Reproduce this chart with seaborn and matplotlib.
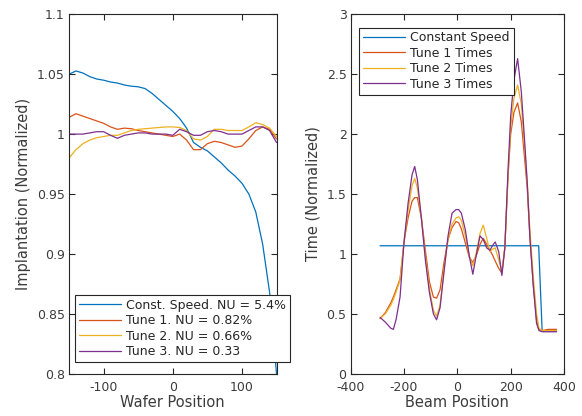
import numpy as np
import pandas as pd
import matplotlib
matplotlib.use("Agg")
import matplotlib.pyplot as plt
import seaborn as sns
from matplotlib.ticker import FormatStrFormatter

# colours (MATLAB default order)
colors = ["#0072BD", "#D95319", "#EDB120", "#7E2F8E"]

# left panel: implantation uniformity across the wafer
wafer_x = [-150, -140, -130, -120, -110, -100, -90, -80, -70, -60, -50, -40, -30, -20, -10,
           0, 10, 20, 30, 40, 50, 60, 70, 80, 90, 100, 110, 120, 130, 140, 150]
const_speed = [1.050, 1.0527, 1.051, 1.048, 1.046, 1.045, 1.0435, 1.0426, 1.041, 1.040, 1.0395,
               1.038, 1.034, 1.029, 1.024, 1.019, 1.013, 1.005, 0.993, 0.989, 0.986, 0.981,
               0.976, 0.970, 0.965, 0.959, 0.950, 0.935, 0.908, 0.868, 0.80]
tune1 = [1.014, 1.017, 1.015, 1.013, 1.011, 1.009, 1.006, 1.004, 1.005, 1.0045, 1.003, 1.002,
         1.001, 1.000, 0.999, 0.998, 1.000, 0.995, 0.987, 0.987, 0.992, 0.994, 0.993, 0.991,
         0.989, 0.990, 0.996, 1.003, 1.006, 1.004, 0.996]
tune2 = [0.980, 0.987, 0.992, 0.995, 0.997, 0.998, 0.999, 0.999, 1.001, 1.003, 1.004, 1.0045,
         1.005, 1.0055, 1.006, 1.006, 1.0055, 1.003, 0.996, 0.995, 0.998, 1.004, 1.004, 1.003,
         1.003, 1.003, 1.006, 1.0095, 1.008, 1.005, 0.998]
tune3 = [1.000, 1.000, 1.000, 1.001, 1.002, 1.002, 0.999, 0.9965, 0.999, 1.000, 1.001, 1.001,
         1.000, 1.000, 1.000, 0.999, 1.004, 1.002, 0.999, 0.999, 1.002, 1.003, 1.002, 1.000,
         1.000, 1.000, 1.003, 1.006, 1.006, 1.003, 0.993]
left_labels = ["Const. Speed. NU = 5.4%", "Tune 1. NU = 0.82%",
               "Tune 2. NU = 0.66%", "Tune 3. NU = 0.33"]

# right panel: dwell time vs beam position
speed_x = [-290, 305, 318, 372]
speed_y = [1.068, 1.068, 0.355, 0.355]
beam_x = [-290, -270, -250, -240, -230, -215, -200, -185, -170, -160, -150, -135, -120, -105,
          -90, -78, -65, -50, -35, -20, -5, 5, 15, 30, 45, 58, 70, 85, 97, 110, 122, 132, 142,
          155, 167, 178, 190, 200, 212, 226, 240, 252, 262, 272, 285, 297, 306, 318, 340, 372]
time1 = [0.46, 0.51, 0.59, 0.64, 0.70, 0.79, 1.10, 1.30, 1.44, 1.47, 1.47, 1.30, 1.03, 0.77,
         0.64, 0.63, 0.70, 0.93, 1.12, 1.22, 1.27, 1.26, 1.21, 1.09, 0.97, 0.93, 0.98, 1.08,
         1.13, 1.08, 1.03, 0.99, 0.94, 0.88, 0.84, 1.05, 1.65, 2.00, 2.18, 2.26, 2.10, 1.80,
         1.55, 1.14, 0.73, 0.45, 0.37, 0.36, 0.37, 0.37]
time2 = [0.46, 0.50, 0.57, 0.62, 0.68, 0.78, 1.10, 1.36, 1.57, 1.63, 1.55, 1.30, 0.98, 0.71,
         0.53, 0.48, 0.57, 0.87, 1.12, 1.25, 1.30, 1.31, 1.28, 1.15, 0.98, 0.90, 1.00, 1.17,
         1.24, 1.13, 1.02, 1.04, 1.05, 0.95, 0.86, 1.05, 1.65, 2.05, 2.30, 2.41, 2.25, 1.90,
         1.60, 1.20, 0.80, 0.50, 0.38, 0.36, 0.36, 0.36]
time3 = [0.47, 0.43, 0.38, 0.37, 0.45, 0.64, 1.10, 1.42, 1.66, 1.73, 1.62, 1.30, 0.95, 0.68,
         0.50, 0.45, 0.55, 0.85, 1.15, 1.34, 1.37, 1.37, 1.34, 1.20, 0.98, 0.83, 0.98, 1.15,
         1.12, 1.05, 1.03, 1.07, 1.10, 1.02, 0.82, 1.05, 1.70, 2.15, 2.45, 2.63, 2.35, 1.95,
         1.60, 1.14, 0.73, 0.42, 0.36, 0.35, 0.35, 0.35]
right_labels = ["Constant Speed", "Tune 1 Times", "Tune 2 Times", "Tune 3 Times"]

sns.set_style("ticks")
plt.rcParams["font.family"] = ["DejaVu Sans"]
plt.rcParams["axes.unicode_minus"] = False
text_col = "#3c3c3c"

# build long tables for seaborn
df_left = pd.concat([
    pd.DataFrame({"x": wafer_x, "y": vals, "series": lab})
    for vals, lab in zip([const_speed, tune1, tune2, tune3], left_labels)
], ignore_index=True)
df_right = pd.concat(
    [pd.DataFrame({"x": speed_x, "y": speed_y, "series": right_labels[0]})] +
    [pd.DataFrame({"x": beam_x, "y": vals, "series": lab})
     for vals, lab in zip([time1, time2, time3], right_labels[1:])],
    ignore_index=True)

fig = plt.figure(figsize=(5.82, 4.16), dpi=100)
ax1 = fig.add_axes([0.1186, 0.1017, 0.3565, 0.8639])
ax2 = fig.add_axes([0.6026, 0.1017, 0.3665, 0.8639])

sns.lineplot(data=df_left, x="x", y="y", hue="series", palette=colors, ax=ax1,
             estimator=None, sort=False, linewidth=0.9)
sns.lineplot(data=df_right, x="x", y="y", hue="series", palette=colors, ax=ax2,
             estimator=None, sort=False, linewidth=0.9)

ax1.set_xlim(-150, 150)
ax1.set_ylim(0.8, 1.1)
ax1.set_xticks([-100, 0, 100])
ax1.set_yticks([0.8, 0.85, 0.9, 0.95, 1.0, 1.05, 1.1])
ax1.yaxis.set_major_formatter(FormatStrFormatter("%g"))
ax1.set_xlabel("Wafer Position", fontsize=10.5, color=text_col, labelpad=1)
ax1.set_ylabel("Implantation (Normalized)", fontsize=10.5, color=text_col, labelpad=4)

ax2.set_xlim(-400, 400)
ax2.set_ylim(0, 3)
ax2.set_xticks([-400, -200, 0, 200, 400])
ax2.set_yticks([0, 0.5, 1, 1.5, 2, 2.5, 3])
ax2.yaxis.set_major_formatter(FormatStrFormatter("%g"))
ax2.set_xlabel("Beam Position", fontsize=10.5, color=text_col, labelpad=1)
ax2.set_ylabel("Time (Normalized)", fontsize=10.5, color=text_col, labelpad=4)

for ax in (ax1, ax2):
    ax.tick_params(direction="in", top=True, right=True, length=4, width=0.8,
                   labelsize=9, colors="#262626", labelcolor=text_col)
    ax.tick_params(axis="x", pad=5)
    ax.tick_params(axis="y", pad=3)
    for sp in ax.spines.values():
        sp.set_visible(True)
        sp.set_color("#262626")
        sp.set_linewidth(0.8)

leg1 = ax1.legend(loc="lower right", bbox_to_anchor=(1.065, 0.033), borderaxespad=0,
                  fontsize=9, handlelength=3.4, labelspacing=0.2, handletextpad=0.4,
                  borderpad=0.3, fancybox=False, framealpha=1, edgecolor="#262626")
leg2 = ax2.legend(loc="upper left", bbox_to_anchor=(0.040, 0.963), borderaxespad=0,
                  fontsize=9, handlelength=3.4, labelspacing=0.2, handletextpad=0.4,
                  borderpad=0.3, fancybox=False, framealpha=1, edgecolor="#262626")
for leg in (leg1, leg2):
    leg.get_frame().set_linewidth(0.8)
    for t in leg.get_texts():
        t.set_color("#262626")
leg1.set_zorder(5)

fig.savefig("out.png", dpi=100)
